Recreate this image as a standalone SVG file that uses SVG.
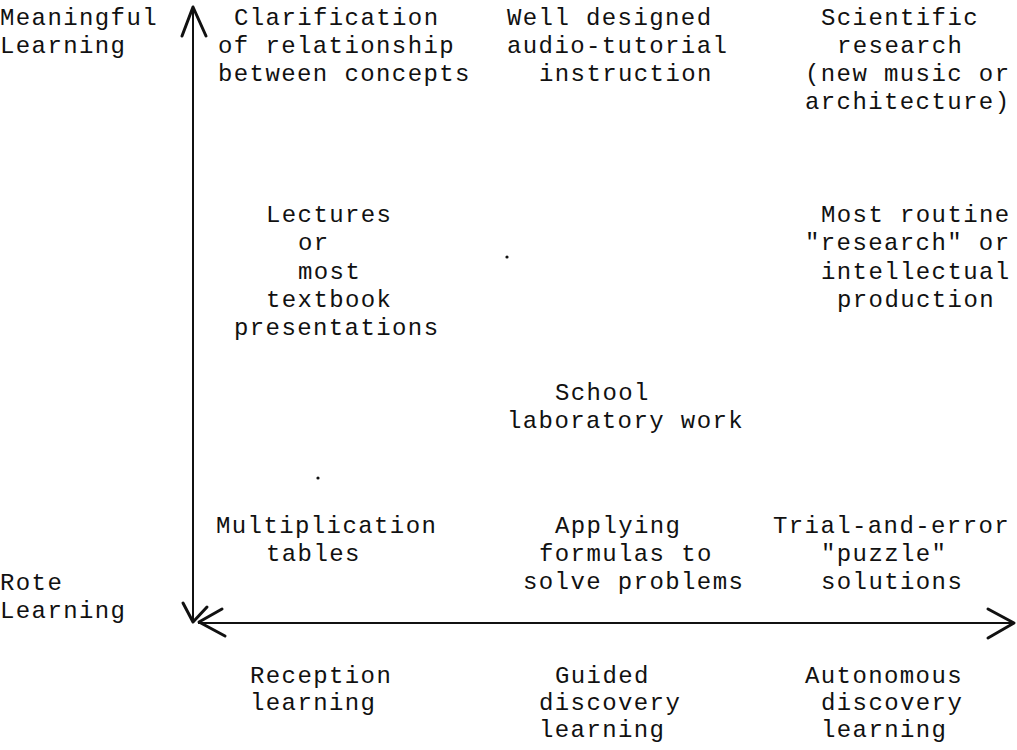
<svg xmlns="http://www.w3.org/2000/svg" width="1017" height="750" viewBox="0 0 1017 750">
<style>
text{font-family:"Liberation Mono","DejaVu Sans Mono",monospace;font-size:24px;letter-spacing:1.4px;fill:#111}
.ax{stroke:#111;stroke-width:2;fill:none}
.hd{stroke:#111;stroke-width:3;fill:none;stroke-linecap:round;stroke-linejoin:round}
</style>
<rect width="1017" height="750" fill="#fff"/>
<g id="connectors">
<line class="ax" x1="193" y1="10" x2="193" y2="622"/>
<line class="ax" x1="198" y1="623" x2="1012" y2="623"/>
<polyline class="hd" points="182,36 193,7 206,36"/>
<polyline class="hd" points="183,603 193,622 207,607"/>
<polyline class="hd" points="222,609 199,622 225,636"/>
<polyline class="hd" points="988,609 1014,623 988,638"/>
</g>
<g id="axis-labels">
<text x="0" y="25">Meaningful</text>
<text x="0" y="53">Learning</text>
<text x="0" y="590">Rote</text>
<text x="0" y="618">Learning</text>
</g>
<g id="clarification">
<text x="234" y="25">Clarification</text>
<text x="218" y="53">of relationship</text>
<text x="218" y="81">between concepts</text>
</g>
<g id="audio-tutorial">
<text x="507" y="25">Well designed</text>
<text x="507" y="53">audio-tutorial</text>
<text x="539" y="81">instruction</text>
</g>
<g id="scientific-research">
<text x="821" y="25">Scientific</text>
<text x="837" y="53">research</text>
<text x="805" y="81">(new music or</text>
<text x="805" y="109">architecture)</text>
</g>
<g id="lectures">
<text x="266" y="222">Lectures</text>
<text x="298" y="250">or</text>
<text x="298" y="279">most</text>
<text x="266" y="307">textbook</text>
<text x="234" y="335">presentations</text>
</g>
<g id="routine-research">
<text x="821" y="222">Most routine</text>
<text x="805" y="250">"research" or</text>
<text x="821" y="279">intellectual</text>
<text x="837" y="307">production</text>
</g>
<g id="school-lab">
<text x="555" y="400">School</text>
<text x="507" y="428">laboratory work</text>
</g>
<g id="multiplication">
<text x="216" y="533">Multiplication</text>
<text x="266" y="561">tables</text>
</g>
<g id="formulas">
<text x="555" y="533">Applying</text>
<text x="539" y="561">formulas to</text>
<text x="523" y="589">solve problems</text>
</g>
<g id="trial-error">
<text x="773" y="533">Trial-and-error</text>
<text x="821" y="561">"puzzle"</text>
<text x="821" y="589">solutions</text>
</g>
<g id="reception">
<text x="250" y="683">Reception</text>
<text x="250" y="710">learning</text>
</g>
<g id="guided">
<text x="555" y="683">Guided</text>
<text x="539" y="710">discovery</text>
<text x="539" y="737">learning</text>
</g>
<g id="autonomous">
<text x="805" y="683">Autonomous</text>
<text x="821" y="710">discovery</text>
<text x="821" y="737">learning</text>
</g>
<circle cx="507" cy="257" r="1.6" fill="#111"/>
<circle cx="318" cy="478" r="1.6" fill="#111"/>
</svg>
